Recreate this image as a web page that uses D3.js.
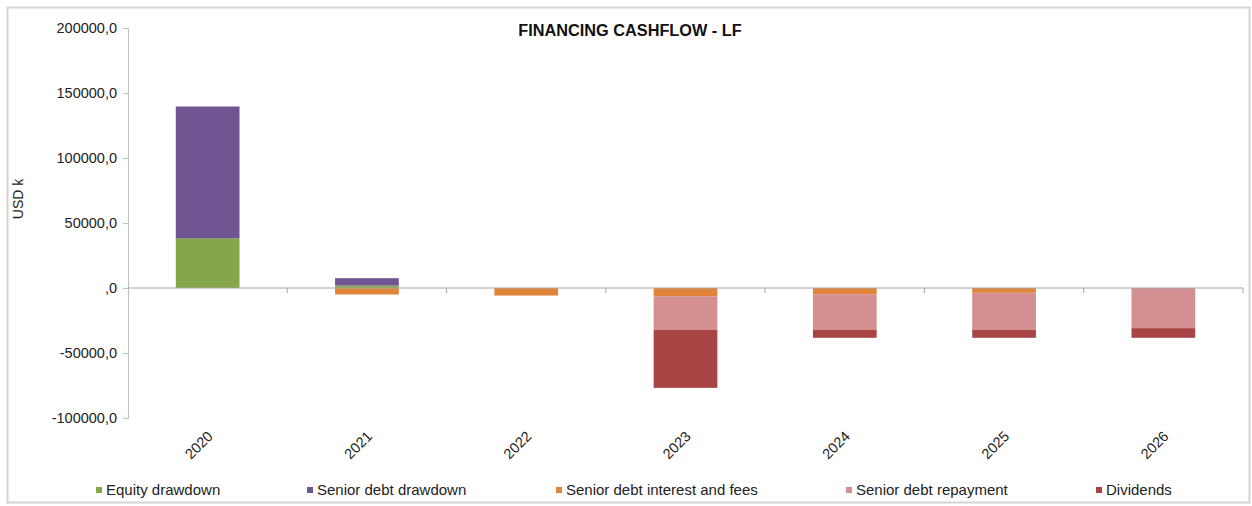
<!DOCTYPE html>
<html><head><meta charset="utf-8">
<script src="https://cdn.jsdelivr.net/npm/d3@7"></script>
<style>body{margin:0;background:#fff}svg{display:block;font-family:"Liberation Sans",Arial,sans-serif}</style>
</head><body><svg id="c" width="1252" height="506"></svg>
<script>
const years = ["2020","2021","2022","2023","2024","2025","2026"];
const equityDrawdown = [38100, 1900, 0, 0, 0, 0, 0];
const seniorDebtDrawdown = [101500, 5650, 0, 0, 0, 0, 0];
const seniorDebtInterest = [0, -5000, -5800, -6300, -4800, -3700, 0];
const seniorDebtRepayment = [0, 0, 0, -25850, -27350, -28450, -30900];
const dividends = [0, 0, 0, -44650, -6150, -6150, -7400];
const yTicks = [-100000, -50000, 0, 50000, 100000, 150000, 200000];
const seriesNames = ["Equity drawdown","Senior debt drawdown","Senior debt interest and fees","Senior debt repayment","Dividends"];
const seriesColors = ["#86a64a","#6f5591","#e0843a","#d49090","#a84444"];

const svg = d3.select("#c");
svg.append("rect").attr("x",7.5).attr("y",7.5).attr("width",1242).attr("height",495)
  .attr("fill","#fff").attr("stroke","#d4d4d4").attr("stroke-width",2);

const m = {left:128, right:1243, top:28, bottom:418};
const x = d3.scaleBand().domain(years).range([m.left, m.right]).paddingInner(0.6).paddingOuter(0.3);
const y = d3.scaleLinear().domain([-100000, 200000]).range([m.bottom, m.top]);

const seriesArr = [equityDrawdown, seniorDebtDrawdown, seniorDebtInterest, seniorDebtRepayment, dividends];
const table = years.map((yr,i)=>{const o={year:yr}; seriesNames.forEach((n,k)=>o[n]=seriesArr[k][i]); return o;});
const stack = d3.stack().keys(seriesNames).offset(d3.stackOffsetDiverging)(table);

// y axis
const fmt = v => v===0 ? ",0" : String(v) + ",0";
const yAxis = svg.append("g").attr("transform",`translate(${m.left},0)`)
  .call(d3.axisLeft(y).tickValues(yTicks).tickFormat(fmt).tickSize(5).tickPadding(6));
yAxis.select(".domain").attr("stroke","#bfbfbf");
yAxis.selectAll(".tick line").attr("stroke","#bfbfbf");
yAxis.selectAll("text").attr("font-size","14.5px").attr("fill","#222");

// bars
svg.append("g").selectAll("g").data(stack).join("g")
  .attr("fill",(d,i)=>seriesColors[i])
  .selectAll("rect").data(d=>d).join("rect")
  .attr("x",d=>x(d.data.year)).attr("width",x.bandwidth())
  .attr("y",d=>y(Math.max(d[0],d[1]))).attr("height",d=>Math.abs(y(d[0])-y(d[1])));

// zero line with category boundary ticks
const bounds = d3.range(years.length+1).map(i=>m.left + i*(m.right-m.left)/years.length);
svg.append("line").attr("x1",m.left).attr("x2",m.right).attr("y1",y(0)).attr("y2",y(0)).attr("stroke","#a6a6a6");
svg.append("g").selectAll("line").data(bounds.slice(1)).join("line")
  .attr("x1",d=>d).attr("x2",d=>d).attr("y1",y(0)).attr("y2",y(0)+5).attr("stroke","#a6a6a6");

// year labels
svg.append("g").selectAll("text").data(years).join("text")
  .attr("transform",d=>`translate(${x(d)+x.bandwidth()/2-1},${m.bottom+12}) rotate(-45)`)
  .attr("text-anchor","end").attr("dy","0.7em").attr("font-size","14.5px").attr("fill","#222").text(d=>d);

// title
svg.append("text").attr("x",630).attr("y",36).attr("text-anchor","middle")
  .attr("font-size","16.3px").attr("font-weight","bold").attr("fill","#111").text("FINANCING CASHFLOW - LF");

// y label
svg.append("text").attr("transform","translate(23,199) rotate(-90)").attr("text-anchor","middle")
  .attr("font-size","14px").attr("fill","#222").text("USD k");

// legend
const legendX = [96, 307, 556, 846, 1096];
const lg = svg.append("g").selectAll("g").data(seriesNames).join("g")
  .attr("transform",(d,i)=>`translate(${legendX[i]},490)`);
lg.append("rect").attr("x",0).attr("y",-3).attr("width",6).attr("height",6).attr("fill",(d,i)=>seriesColors[i]);
lg.append("text").attr("x",10).attr("dy","0.35em").attr("font-size","15px").attr("fill","#222").text(d=>d);
</script></body></html>
